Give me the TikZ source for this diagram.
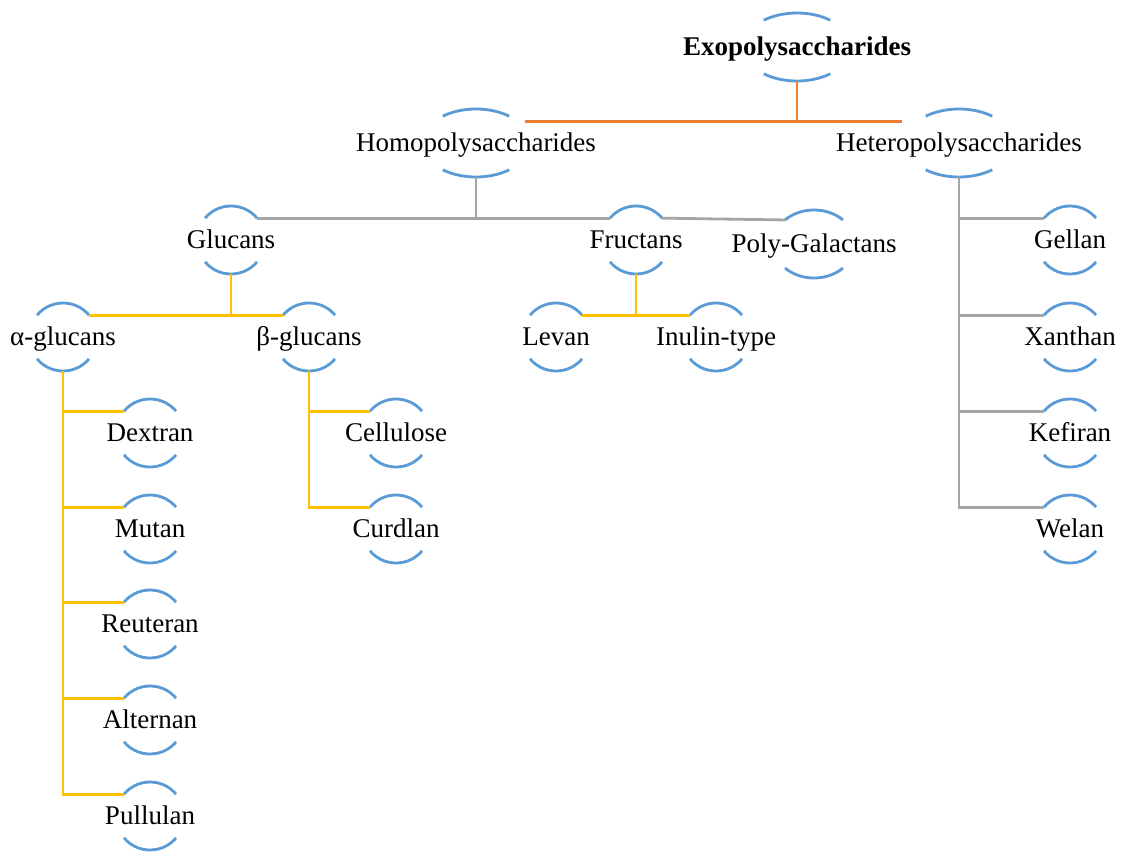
\documentclass[tikz,border=0pt]{standalone}
\usepackage{fontspec}
\setmainfont{Liberation Serif}
\usetikzlibrary{calc}
\definecolor{capblue}{HTML}{5B9BD5}
\definecolor{linkorange}{HTML}{ED7D31}
\definecolor{linkgray}{HTML}{A5A5A5}
\definecolor{linkyellow}{HTML}{FFC000}
\tikzset{
  term/.style={inner sep=0pt,text height=20pt,text depth=3pt,font=\fontsize{27}{32}\selectfont},
  arcstroke/.style={capblue,line width=2.8pt},
  orangelink/.style={linkorange,line width=2.8pt},
  graylink/.style={linkgray,line width=2.8pt},
  yellowlink/.style={linkyellow,line width=2.8pt}
}

\begin{document}
\begin{tikzpicture}[x=1pt,y=-1pt]
  \useasboundingbox (0,0) rectangle (1121,854);
  % terms
  \node[term,font=\fontsize{27}{32}\selectfont\bfseries] (exo) at (797,47) {Exopolysaccharides};
  \node[term] (homo) at (476,143) {Homopolysaccharides};
  \node[term] (hetero) at (959,143) {Heteropolysaccharides};
  \node[term] (glucans) at (231,240) {Glucans};
  \node[term] (fructans) at (636,240) {Fructans};
  \node[term] (polygal) at (814,244) {Poly-Galactans};
  \node[term] (alpha) at (63,337) {α-glucans};
  \node[term] (beta) at (309,337) {β-glucans};
  \node[term] (levan) at (556,337) {Levan};
  \node[term] (inulin) at (716,337) {Inulin-type};
  \node[term] (dextran) at (150,433) {Dextran};
  \node[term] (mutan) at (150,529) {Mutan};
  \node[term] (reuteran) at (150,624) {Reuteran};
  \node[term] (alternan) at (150,720) {Alternan};
  \node[term] (pullulan) at (150,816) {Pullulan};
  \node[term] (cellulose) at (396,433) {Cellulose};
  \node[term] (curdlan) at (396,529) {Curdlan};
  \node[term] (gellan) at (1070,240) {Gellan};
  \node[term] (xanthan) at (1070,337) {Xanthan};
  \node[term] (kefiran) at (1070,433) {Kefiran};
  \node[term] (welan) at (1070,529) {Welan};

  % arcs above and below each term
  \foreach \n/\rx/\a in {exo/54/52,homo/54/52,hetero/54/52,glucans/34/40,fructans/34/40,
      polygal/41/45,alpha/34/40,beta/34/40,levan/34/40,inulin/34/40,dextran/34/40,
      mutan/34/40,reuteran/34/40,alternan/34/40,pullulan/34/40,cellulose/34/40,
      curdlan/34/40,gellan/34/40,xanthan/34/40,kefiran/34/40,welan/34/40} {
    \coordinate (\n-tl) at ($(\n)+({-\rx*cos(\a)},{-34*sin(\a)})$);
    \coordinate (\n-tr) at ($(\n)+({\rx*cos(\a)},{-34*sin(\a)})$);
    \coordinate (\n-bl) at ($(\n)+({-\rx*cos(\a)},{34*sin(\a)})$);
    \coordinate (\n-b) at ($(\n)+(0,34)$);
    \draw[arcstroke] (\n-tl) arc[start angle=180+\a,end angle=360-\a,x radius=\rx,y radius=34];
    \draw[arcstroke] (\n-bl) arc[start angle=180-\a,end angle=\a,x radius=\rx,y radius=34];
  }

  % connectors
  \coordinate (ohub) at ([shift={(16,5)}]homo-tr);
  \draw[orangelink] (ohub) -- ([shift={(-24,5)}]hetero-tl);
  \draw[orangelink] (exo-b) -- (exo-b |- ohub);

  \draw[graylink] (homo-b) -- (homo-b |- glucans-tr);
  \draw[graylink] (glucans-tr) -- (fructans-tl);
  \draw[graylink] (fructans-tr) -- (polygal-tl);
  \foreach \c in {gellan,xanthan,kefiran,welan}
    \draw[graylink] (hetero-b) |- (\c-tl);

  \draw[yellowlink] (glucans-b) -- (glucans-b |- alpha-tr);
  \draw[yellowlink] (alpha-tr) -- (beta-tl);
  \draw[yellowlink] (fructans-b) -- (fructans-b |- levan-tr);
  \draw[yellowlink] (levan-tr) -- (inulin-tl);
  \foreach \c in {dextran,mutan,reuteran,alternan,pullulan}
    \draw[yellowlink] (alpha-b) |- (\c-tl);
  \foreach \c in {cellulose,curdlan}
    \draw[yellowlink] (beta-b) |- (\c-tl);
\end{tikzpicture}
\end{document}
